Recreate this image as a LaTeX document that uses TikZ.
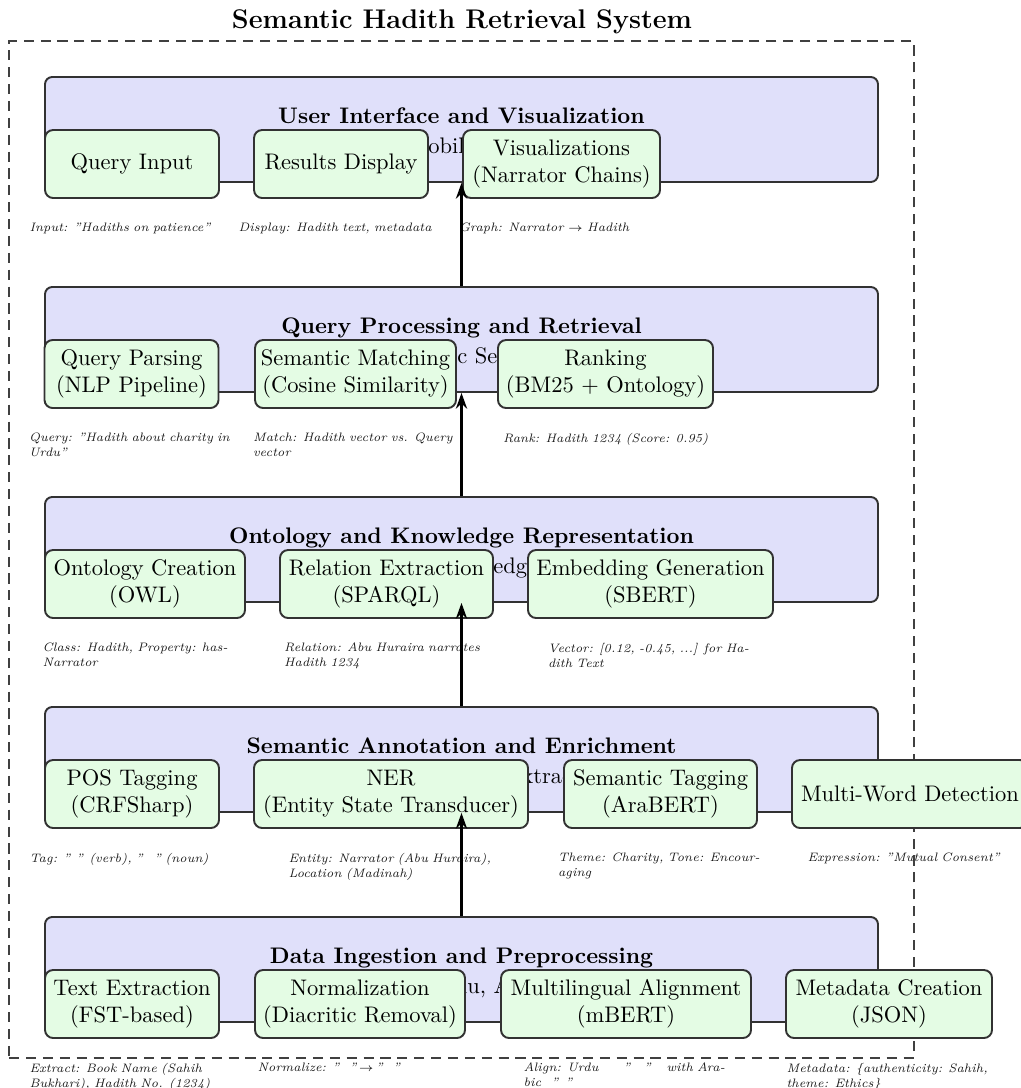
\documentclass[tikz,border=0pt]{standalone}
\usetikzlibrary{arrows.meta,backgrounds,fit}
\definecolor{layerfill}{RGB}{224,224,250}
\definecolor{procfill}{RGB}{228,252,228}
\definecolor{edgecol}{RGB}{50,50,50}
\begin{document}
\begin{tikzpicture}[x=0.44444pt,y=-0.44444pt,
  layerbox/.style={draw=edgecol, line width=0.85pt, fill=layerfill, rounded corners=3.2pt,
    minimum width=370.2pt, minimum height=46.67pt, inner sep=0pt},
  proc/.style={draw=edgecol, line width=0.85pt, fill=procfill, rounded corners=3.6pt,
    minimum height=30.22pt, inner sep=0pt, align=center},
  note/.style={anchor=north, inner sep=0pt, text width=99pt, xshift=3.95pt, align=left,
    font=\fontsize{5.45}{6.6}\selectfont\itshape, text=black!90},
  ltitle/.style={anchor=base, inner sep=0pt, font=\bfseries},
  lsub/.style={anchor=base west, inner sep=0pt},
  flow/.style={-{Stealth[length=7pt,width=5pt]}, line width=1pt},
  frame/.style={draw=black!75, line width=0.75pt, dash pattern=on 4.5pt off 3pt, inner sep=15.5pt},
]
\useasboundingbox (0,0) rectangle (1021,1088);

% layers
\node[layerbox] (L1) at (461.5,129.5) {};
\node[layerbox] (L2) at (461.5,339.5) {};
\node[layerbox] (L3) at (461.5,549.5) {};
\node[layerbox] (L4) at (461.5,759.5) {};
\node[layerbox] (L5) at (461.5,969.5) {};

\begin{scope}[on background layer]
\node[frame, fit=(L1)(L5)] (frame) {};
\end{scope}

\node[anchor=base, inner sep=0pt, font=\large\bfseries] (title) at (462,28) {Semantic Hadith Retrieval System};

% layer titles and subtitles
\node[ltitle] (t1) at (461.5,123) {User Interface and Visualization};
\node[lsub] (s1) at (428,153) {\llap{(Web \& M}obile Application)};
\node[ltitle] (t2) at (461.5,333) {Query Processing and Retrieval};
\node[lsub] (s2) at (457,363) {\llap{(Semanti}c Search)};
\node[ltitle] (t3) at (461.5,543) {Ontology and Knowledge Representation};
\node[lsub] (s3) at (493,573) {\llap{(Knowl}edge Graph)};
\node[ltitle] (t4) at (461.5,753) {Semantic Annotation and Enrichment};
\node[lsub] (s4) at (521,783) {\llap{(Feature E}xtraction)};
\node[ltitle] (t5) at (461.5,963) {Data Ingestion and Preprocessing};
\node[lsub] (s5) at (467,993) {\llap{(Urd}u, Arabic, English)};

% layer 1
\node[proc, minimum width=77.33pt] (qi) at (132,164) {Query Input};
\node[proc, minimum width=77.33pt] (rd) at (341,164) {Results Display};
\node[proc, minimum width=87.56pt] (vz) at (561.5,164) {Visualizations\\(Narrator Chains)};
% layer 2
\node[proc, minimum width=77.33pt] (qp) at (131.5,374) {Query Parsing\\(NLP Pipeline)};
\node[proc, minimum width=89.33pt] (sm) at (355.5,374) {Semantic Matching\\(Cosine Similarity)};
\node[proc, minimum width=95.56pt] (rk) at (605.5,374) {Ranking\\(BM25 + Ontology)};
% layer 3
\node[proc, minimum width=88.89pt] (oc) at (145,584) {Ontology Creation\\(OWL)};
\node[proc, minimum width=94.67pt] (re) at (386.5,584) {Relation Extraction\\(SPARQL)};
\node[proc, minimum width=108.89pt] (eg) at (650.5,584) {Embedding Generation\\(SBERT)};
% layer 4
\node[proc, minimum width=77.33pt] (pos) at (132,794) {POS Tagging\\(CRFSharp)};
\node[proc, minimum width=121.78pt] (ner) at (391,794) {NER\\(Entity State Transducer)};
\node[proc, minimum width=85.78pt] (st) at (660.5,794) {Semantic Tagging\\(AraBERT)};
\node[proc, minimum width=104.9pt] (mw) at (910,794) {Multi-Word Detection};
% layer 5
\node[proc, minimum width=77.33pt] (te) at (132,1004) {Text Extraction\\(FST-based)};
\node[proc, minimum width=93.33pt] (nm) at (360,1004) {Normalization\\(Diacritic Removal)};
\node[proc, minimum width=111.11pt] (ma) at (626,1004) {Multilingual Alignment\\(mBERT)};
\node[proc, minimum width=91.56pt] (mc) at (889,1004) {Metadata Creation\\(JSON)};

% annotations
\node[note] (nqi) at ([yshift=-10.5pt]qi.south) {Input: ''Hadiths on patience''};
\node[note] (nrd) at ([yshift=-10.5pt]rd.south) {Display: Hadith text, metadata};
\node[note] (nvz) at ([yshift=-10.5pt]vz.south) {Graph: Narrator $\rightarrow$ Hadith};

\node[note] (nqp) at ([yshift=-10.5pt]qp.south) {Query: ''Hadith about charity in\\Urdu''};
\node[note] (nsm) at ([yshift=-10.5pt]sm.south) {Match: Hadith vector vs. Query\\vector};
\node[note] (nrk) at ([yshift=-10.5pt]rk.south) {Rank: Hadith 1234 (Score: 0.95)};

\node[note] (noc) at ([yshift=-10.5pt]oc.south) {Class: Hadith, Property: has-\\Narrator};
\node[note] (nre) at ([yshift=-10.5pt]re.south) {Relation: Abu Huraira narrates\\Hadith 1234};
\node[note] (neg) at ([yshift=-10.5pt]eg.south) {Vector: [0.12, -0.45, ...] for Ha-\\dith Text};

\node[note] (npos) at ([yshift=-10.5pt]pos.south) {Tag: ''\hspace{2.5pt}'' (verb), ''\hspace{5pt}'' (noun)};
\node[note] (nner) at ([yshift=-10.5pt]ner.south) {Entity: Narrator (Abu Huraira),\\Location (Madinah)};
\node[note] (nst) at ([yshift=-10.5pt]st.south) {Theme: Charity, Tone: Encour-\\aging};
\node[note] (nmw) at ([yshift=-10.5pt]mw.south) {Expression: ''Mutual Consent''};

\node[note] (nte) at ([yshift=-10.5pt]te.south) {Extract: Book Name (Sahih\\Bukhari), Hadith No. (1234)};
\node[note] (nnm) at ([yshift=-10.5pt]nm.south) {Normalize: ''\hspace{4.5pt}''\,$\rightarrow$\,''\hspace{4.5pt}''};
\node[note] (nma) at ([yshift=-10.5pt]ma.south) {Align: Urdu\hspace{11pt}''\hspace{6pt}''\hspace{7pt}with Ara-\\bic\hspace{4.5pt}''\hspace{3pt}''};
\node[note] (nmc) at ([yshift=-10.5pt]mc.south) {Metadata: \{authenticity: Sahih,\\theme: Ethics\}};

% flow arrows
\draw[flow] (L5.north) -- (L4.south);
\draw[flow] (L4.north) -- (L3.south);
\draw[flow] (L3.north) -- (L2.south);
\draw[flow] (L2.north) -- (L1.south);
\end{tikzpicture}
\end{document}
